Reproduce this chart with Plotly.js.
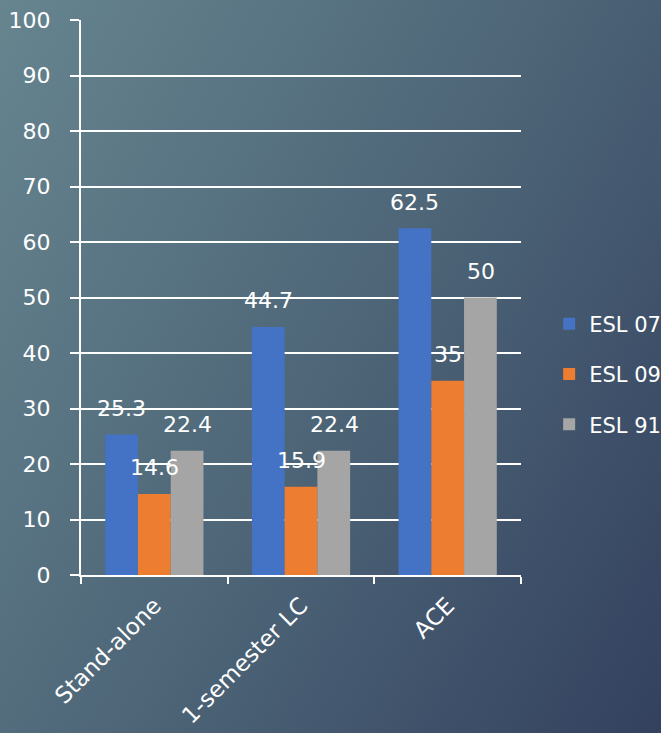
<!DOCTYPE html>
<html>
<head>
<meta charset="utf-8">
<script src="https://cdn.plot.ly/plotly-3.0.1.min.js"></script>
<style>
html, body { margin: 0; padding: 0; }
body { width: 661px; height: 733px; overflow: hidden;
  background: linear-gradient(120deg, #66858f 0%, #4e6678 50%, #33415f 100%); }
#chart { width: 661px; height: 733px; }
</style>
</head>
<body>
<div id="chart"></div>
<script>
const categories = ["Stand-alone", "1-semester LC", "ACE"];
const seriesNames = ["ESL 07", "ESL 09", "ESL 91"];
const esl07 = [25.3, 44.7, 62.5];
const esl09 = [14.6, 15.9, 35];
const esl91 = [22.4, 22.4, 50];
const yTicks = [0, 10, 20, 30, 40, 50, 60, 70, 80, 90, 100];

const colors = ["#4472C4", "#ED7D31", "#A5A5A5"];
const series = [esl07, esl09, esl91];
const FONT = "DejaVu Sans";

const traces = series.map((vals, i) => ({
  type: "bar",
  name: seriesNames[i],
  legendgroup: seriesNames[i],
  x: categories,
  y: vals,
  marker: { color: colors[i] },
  hoverinfo: "none"
}));

const shifts = [-33, 0, 33];
const annotations = [];
series.forEach((vals, i) => {
  vals.forEach((v, j) => {
    annotations.push({
      xref: "x", yref: "y",
      x: categories[j], y: v,
      text: String(v),
      showarrow: false,
      xshift: shifts[i],
      yshift: 26,
      yanchor: "middle",
      font: { family: FONT, size: 22, color: "#ffffff" }
    });
  });
});

const layout = {
  width: 661, height: 733,
  paper_bgcolor: "rgba(0,0,0,0)",
  plot_bgcolor: "rgba(0,0,0,0)",
  margin: { l: 81, r: 140, t: 20, b: 158, pad: 0, autoexpand: false },
  barmode: "group",
  bargap: 0.33,
  bargroupgap: 0,
  font: { family: FONT, color: "#ffffff", size: 21 },
  showlegend: true,
  legend: {
    x: 1.064, xanchor: "left",
    y: 0.362, yanchor: "middle",
    traceorder: "grouped",
    tracegroupgap: 20,
    font: { family: FONT, size: 21, color: "#ffffff" },
    bgcolor: "rgba(0,0,0,0)"
  },
  xaxis: {
    type: "category",
    tickson: "boundaries",
    ticks: "outside",
    ticklen: 7,
    tickwidth: 2,
    tickcolor: "#ffffff",
    showline: true,
    linecolor: "#ffffff",
    linewidth: 2,
    showgrid: false,
    tickangle: -45,
    ticklabelstandoff: 6,
    tickfont: { family: FONT, size: 23, color: "#ffffff" }
  },
  yaxis: {
    range: [0, 100],
    tickvals: yTicks,
    ticktext: yTicks.map(String),
    ticks: "outside",
    ticklen: 9,
    tickwidth: 2,
    tickcolor: "#ffffff",
    showline: true,
    linecolor: "#ffffff",
    linewidth: 2,
    showgrid: true,
    gridcolor: "#ffffff",
    gridwidth: 2,
    zeroline: false,
    ticklabelstandoff: 15,
    tickfont: { family: FONT, size: 22, color: "#ffffff" }
  },
  annotations: annotations
};

Plotly.newPlot("chart", traces, layout, { displayModeBar: false, staticPlot: true });
</script>
</body>
</html>
